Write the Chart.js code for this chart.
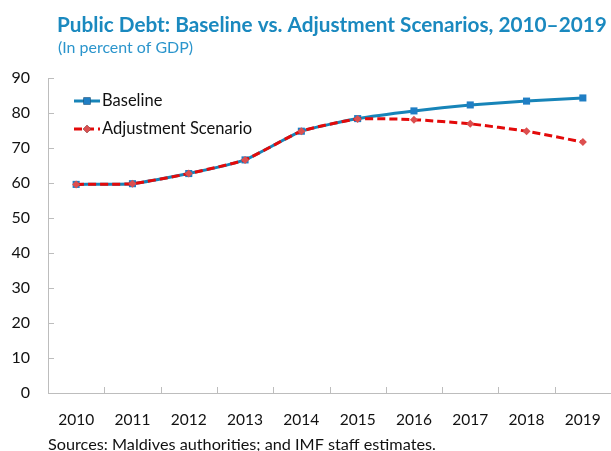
<!DOCTYPE html>
<html>
<head>
<meta charset="utf-8">
<title>Public Debt: Baseline vs. Adjustment Scenarios</title>
<script src="https://cdn.jsdelivr.net/npm/chart.js@4/dist/chart.umd.min.js"></script>
<style>
  html, body { margin: 0; padding: 0; background: #fff; }
  #grafico { display: block; }
</style>
</head>
<body>
<canvas id="grafico" width="611" height="451"></canvas>
<script>
// años y trayectorias de deuda (% del PIB)
const years = ["2010", "2011", "2012", "2013", "2014", "2015", "2016", "2017", "2018", "2019"];
const baseline = [59.6, 59.8, 62.7, 66.6, 74.8, 78.4, 80.6, 82.3, 83.4, 84.3];
const adjustment = [59.6, 59.8, 62.7, 66.6, 74.8, 78.3, 78.1, 76.9, 74.8, 71.7];
const seriesNames = ["Baseline", "Adjustment Scenario"];

const titulo = "Public Debt: Baseline vs. Adjustment Scenarios, 2010\u20132019";
const subtitulo = "(In percent of GDP)";
const fuente = "Sources: Maldives authorities; and IMF staff estimates.";

const azulTitulo = "#1a89bf";
const azulLinea = "#1784b8";
const azulPunto = "#1f7ec4";
const rojoLinea = "#e30a0a";
const rojoPunto = "#dc4f4f";
const gris = "#bdbdbd";
const fuenteBase = "Lato, 'Open Sans', sans-serif";

// escribe un texto ajustando el tamaño para que ocupe un ancho dado
function textoAjustado(ctx, texto, x, y, ancho, peso, tamano) {
    ctx.font = peso + " " + tamano + "px " + fuenteBase;
    const t = tamano * ancho / ctx.measureText(texto).width;
    ctx.font = peso + " " + t.toFixed(2) + "px " + fuenteBase;
    ctx.fillText(texto, x, y);
}

// textos, leyenda y marcas de eje que Chart.js no dibuja así
const extras = {
    id: "extras",
    afterDraw(chart) {
        const ctx = chart.ctx;
        const area = chart.chartArea;
        const x = chart.scales.x;
        const y = chart.scales.y;
        ctx.save();

        // marcas cortas hacia dentro del área
        ctx.strokeStyle = gris;
        ctx.lineWidth = 1;
        ctx.beginPath();
        y.ticks.forEach((t, i) => {
            const py = Math.round(y.getPixelForTick(i)) + 0.5;
            ctx.moveTo(area.left, py);
            ctx.lineTo(area.left + 6, py);
        });
        const paso = x.getPixelForTick(1) - x.getPixelForTick(0);
        for (let i = 0; i < years.length; i++) {
            const px = Math.round(x.getPixelForTick(i) + paso / 2) + 0.5;
            ctx.moveTo(px, area.bottom);
            ctx.lineTo(px, area.bottom - 6);
        }
        ctx.stroke();

        // título y subtítulo
        ctx.textBaseline = "alphabetic";
        ctx.textAlign = "left";
        ctx.fillStyle = azulTitulo;
        textoAjustado(ctx, titulo, 57, 32, 550, "bold", 20);
        ctx.fillStyle = "#2b95cc";
        textoAjustado(ctx, subtitulo, 58, 53, 135, "normal", 16);

        // fuente
        ctx.fillStyle = "#111";
        textoAjustado(ctx, fuente, 48, 450, 388, "normal", 16);

        // leyenda
        const filas = [
            { y: 101, ds: chart.data.datasets[0] },
            { y: 129, ds: chart.data.datasets[1] }
        ];
        filas.forEach(f => {
            ctx.strokeStyle = f.ds.borderColor;
            ctx.lineWidth = 3;
            ctx.setLineDash(f.ds.borderDash || []);
            ctx.beginPath();
            ctx.moveTo(74, f.y);
            ctx.lineTo(100, f.y);
            ctx.stroke();
            ctx.setLineDash([]);
            Chart.helpers.drawPoint(ctx, {
                pointStyle: f.ds.pointStyle,
                radius: f.ds.pointRadius,
                borderWidth: 0
            }, 87, f.y);
            ctx.fillStyle = f.ds.pointBackgroundColor;
            ctx.fill();
            ctx.fillStyle = "#111";
            ctx.font = "16.5px " + fuenteBase;
            ctx.textBaseline = "middle";
            ctx.fillText(f.ds.label, 102, f.y);
        });

        ctx.restore();
    }
};

new Chart(document.getElementById("grafico"), {
    type: "line",
    data: {
        labels: years,
        datasets: [
            {
                label: seriesNames[0],
                data: baseline,
                borderColor: azulLinea,
                borderWidth: 3,
                pointStyle: "rect",
                pointRadius: 5,
                pointBackgroundColor: azulPunto,
                pointBorderWidth: 0,
                tension: 0.15,
                order: 2
            },
            {
                label: seriesNames[1],
                data: adjustment,
                borderColor: rojoLinea,
                borderWidth: 3,
                borderDash: [8, 4],
                pointStyle: "rectRot",
                pointRadius: 4,
                pointBackgroundColor: rojoPunto,
                pointBorderWidth: 0,
                tension: 0.15,
                order: 1
            }
        ]
    },
    options: {
        responsive: false,
        animation: false,
        devicePixelRatio: 1,
        layout: { autoPadding: false, padding: { top: 78, right: 0, bottom: 0, left: 0 } },
        plugins: {
            legend: { display: false },
            tooltip: { enabled: false }
        },
        scales: {
            x: {
                offset: true,
                grid: { display: false, drawTicks: false },
                border: { display: true, color: gris, width: 1 },
                ticks: {
                    padding: 18,
                    color: "#111",
                    font: { family: fuenteBase, size: 15.5 },
                    maxRotation: 0
                },
                afterFit(scale) {
                    scale.height = 58;
                    scale.paddingLeft = 0;
                    scale.paddingRight = 0;
                }
            },
            y: {
                min: 0,
                max: 90,
                ticks: {
                    stepSize: 10,
                    padding: 18,
                    color: "#111",
                    font: { family: fuenteBase, size: 16 }
                },
                grid: { display: false, drawTicks: false },
                border: { display: true, color: gris, width: 1 },
                afterFit(scale) {
                    scale.width = 48;
                    scale.paddingTop = 0;
                    scale.paddingBottom = 0;
                }
            }
        }
    },
    plugins: [extras]
});
</script>
</body>
</html>
